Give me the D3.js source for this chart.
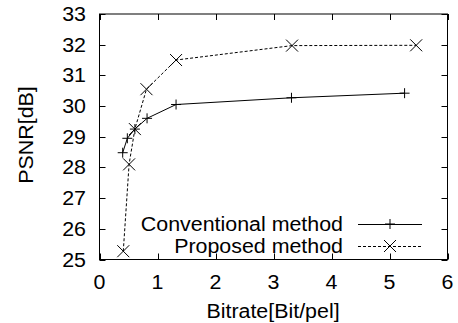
<!DOCTYPE html>
<html><head><meta charset="utf-8">
<script src="https://cdn.jsdelivr.net/npm/d3@7"></script>
<style>html,body{margin:0;padding:0;background:#fff;} svg{display:block;font-family:"Liberation Sans",Arial,sans-serif;}</style>
</head><body>
<script>
const conventionalX = [0.40, 0.48, 0.61, 0.82, 1.32, 3.31, 5.26];
const conventionalY = [28.48, 28.95, 29.25, 29.6, 30.05, 30.27, 30.42];
const proposedX = [0.41, 0.51, 0.61, 0.81, 1.32, 3.32, 5.46];
const proposedY = [25.27, 28.1, 29.25, 30.55, 31.5, 31.97, 31.98];
const xTicks = [0, 1, 2, 3, 4, 5, 6];
const yTicks = [25, 26, 27, 28, 29, 30, 31, 32, 33];
const seriesNames = ["Conventional method", "Proposed method"];

const W = 458, H = 323;
const L = 99.5, R = 447.5, T = 14, B = 259.5;
const svg = d3.select("body").append("svg").attr("width", W).attr("height", H);
const x = d3.scaleLinear().domain([0, 6]).range([L, R]);
const y = d3.scaleLinear().domain([25, 33]).range([B, T]);
const fs = 20, sx = 1.07;

function txt(g, tx, ty, anchor, s, rot) {
  return g.append("text")
    .attr("transform", `translate(${tx},${ty})${rot ? " rotate(-90)" : ""} scale(${sx},1)`)
    .attr("text-anchor", anchor).attr("font-size", fs).text(s);
}

svg.append("rect").attr("x", L).attr("y", T).attr("width", R - L).attr("height", B - T)
  .attr("fill", "none").attr("stroke", "#000").attr("stroke-width", 1);

const tl = 6;
const gx = svg.append("g");
xTicks.forEach(v => {
  const px = Math.round(x(v)) + 0.5;
  gx.append("line").attr("x1", px).attr("x2", px).attr("y1", B).attr("y2", B - tl).attr("stroke", "#000");
  gx.append("line").attr("x1", px).attr("x2", px).attr("y1", T).attr("y2", T + tl).attr("stroke", "#000");
  txt(gx, x(v), 289, "middle", v);
});
const gy = svg.append("g");
yTicks.forEach(v => {
  const py = Math.round(y(v)) + 0.5;
  gy.append("line").attr("x1", L).attr("x2", L + tl).attr("y1", py).attr("y2", py).attr("stroke", "#000");
  gy.append("line").attr("x1", R).attr("x2", R - tl).attr("y1", py).attr("y2", py).attr("stroke", "#000");
  txt(gy, 86, y(v) + 7, "end", v);
});

txt(svg, 273, 318, "middle", "Bitrate[Bit/pel]");
txt(svg, 33, 135, "middle", "PSNR[dB]", true);

const line = d3.line().x(d => x(d[0])).y(d => y(d[1]));
const conv = conventionalX.map((v, i) => [v, conventionalY[i]]);
const prop = proposedX.map((v, i) => [v, proposedY[i]]);

function plus(g, cx, cy) {
  const s = 5;
  g.append("path").attr("d", `M${cx - s},${cy}H${cx + s}M${cx},${cy - s}V${cy + s}`)
    .attr("stroke", "#000").attr("stroke-width", 1).attr("fill", "none");
}
function cross(g, cx, cy) {
  const s = 6;
  g.append("path").attr("d", `M${cx - s},${cy - s}L${cx + s},${cy + s}M${cx - s},${cy + s}L${cx + s},${cy - s}`)
    .attr("stroke", "#000").attr("stroke-width", 1).attr("fill", "none");
}

svg.append("path").datum(conv).attr("d", line).attr("fill", "none").attr("stroke", "#000").attr("stroke-width", 1);
svg.append("path").datum(prop).attr("d", line).attr("fill", "none").attr("stroke", "#000")
  .attr("stroke-width", 1).attr("stroke-dasharray", "3,2");
const gm = svg.append("g");
conv.forEach(d => plus(gm, x(d[0]), y(d[1])));
prop.forEach(d => cross(gm, x(d[0]), y(d[1])));

const lg = svg.append("g");
const rows = [224, 246];
rows.forEach((ry, i) => {
  txt(lg, 343, ry + 7, "end", seriesNames[i]);
  const ln = lg.append("line").attr("x1", 358).attr("x2", 422).attr("y1", ry + 0.5).attr("y2", ry + 0.5)
    .attr("stroke", "#000").attr("stroke-width", 1);
  if (i === 1) { ln.attr("stroke-dasharray", "3,2"); cross(lg, 390, ry); }
  else plus(lg, 390, ry);
});
</script>
</body></html>
